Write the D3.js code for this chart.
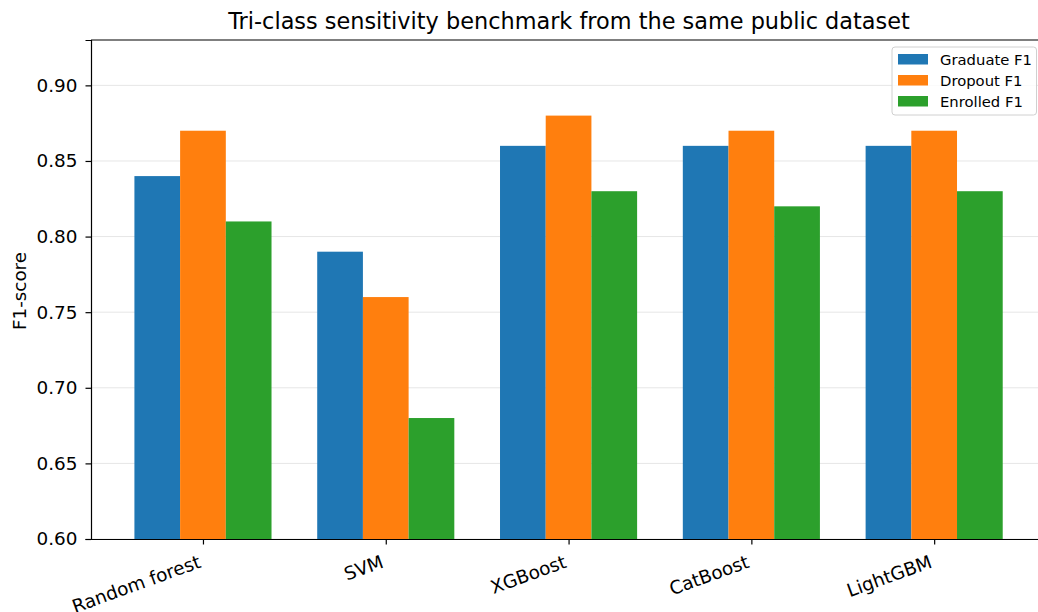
<!DOCTYPE html>
<html><head><meta charset="utf-8">
<script src="https://cdn.jsdelivr.net/npm/d3@7"></script>
<style>body{margin:0;background:#fff;} text{font-family:"DejaVu Sans",sans-serif;fill:#000;}</style>
</head><body>
<svg id="c" width="1038" height="612"></svg>
<script>
const categories = ["Random forest","SVM","XGBoost","CatBoost","LightGBM"];
const seriesNames = ["Graduate F1","Dropout F1","Enrolled F1"];
const graduate = [0.84,0.79,0.86,0.86,0.86];
const dropout  = [0.87,0.76,0.88,0.87,0.87];
const enrolled = [0.81,0.68,0.83,0.82,0.83];
const colors = ["#1f77b4","#ff7f0e","#2ca02c"];
const yTicks = [0.60,0.65,0.70,0.75,0.80,0.85,0.90];
const series = [graduate, dropout, enrolled];

const svg = d3.select("#c");
const L = 91, T = 40, B = 539;
const x = d3.scaleLinear().domain([-0.6125, 4.6125]).range([L, L + 5.225*182.8]);
const y = d3.scaleLinear().domain([0.6, 0.93]).range([B, T]);
const bw = 0.25;

// grid
svg.append("g").selectAll("line").data(yTicks).join("line")
  .attr("x1", L).attr("x2", 1046).attr("y1", d=>y(d)).attr("y2", d=>y(d))
  .attr("stroke","#e6e6e6").attr("stroke-width",1);

// bars
series.forEach((s, si) => {
  svg.append("g").selectAll("rect").data(s).join("rect")
    .attr("x", (d,i) => x(i + (si-1)*bw - bw/2))
    .attr("width", x(bw) - x(0))
    .attr("y", d => y(d))
    .attr("height", d => y(0.6) - y(d))
    .attr("fill", colors[si]);
});

// axes
const yAxis = d3.axisLeft(y).tickValues(yTicks).tickFormat(d3.format(".2f")).tickSize(5.5).tickPadding(8);
const gy = svg.append("g").attr("transform", `translate(${L},0)`).call(yAxis);
gy.selectAll("text").style("font-size","18.4px").style("font-family","DejaVu Sans");
gy.select(".domain").attr("stroke","#000").attr("stroke-width",1.2);
gy.selectAll(".tick line").attr("stroke","#000").attr("stroke-width",1.2);

const xAxis = d3.axisBottom(x).tickValues(d3.range(categories.length)).tickFormat(i => categories[i]).tickSize(5.5).tickSizeOuter(0);
const gx = svg.append("g").attr("transform", `translate(0,${B})`).call(xAxis);
gx.select(".domain").attr("stroke","#000").attr("stroke-width",1.2);
gx.selectAll(".tick line").attr("stroke","#000").attr("stroke-width",1.2);
gx.selectAll("text").style("font-size","18.4px").style("font-family","DejaVu Sans")
  .attr("text-anchor","end").attr("dy",null).attr("y",0)
  .attr("transform","translate(-1.5,28) rotate(-20)");

// top spine
svg.append("line").attr("x1",L).attr("x2",1046).attr("y1",T).attr("y2",T).attr("stroke","#000").attr("stroke-width",1.2);
svg.append("line").attr("x1",1046).attr("x2",1046).attr("y1",T).attr("y2",B).attr("stroke","#000").attr("stroke-width",1.2);

// title
svg.append("text").attr("x", 569).attr("y", 29).attr("text-anchor","middle").style("font-size","22.4px").text("Tri-class sensitivity benchmark from the same public dataset");
// y label
svg.append("text").attr("transform","translate(25.5,291) rotate(-90)").attr("text-anchor","middle").style("font-size","18.3px").text("F1-score");

// legend
const lg = svg.append("g").attr("transform","translate(892,47)");
lg.append("rect").attr("width",144.5).attr("height",68).attr("rx",3).attr("fill","#fff").attr("fill-opacity",0.8).attr("stroke","#d0d0d0");
seriesNames.forEach((n,i) => {
  lg.append("rect").attr("x",6).attr("y",7+i*21).attr("width",30).attr("height",10.5).attr("fill",colors[i]);
  lg.append("text").attr("x",48).attr("y",17.5+i*21).style("font-size","14.8px").text(n);
});
</script>
</body></html>
